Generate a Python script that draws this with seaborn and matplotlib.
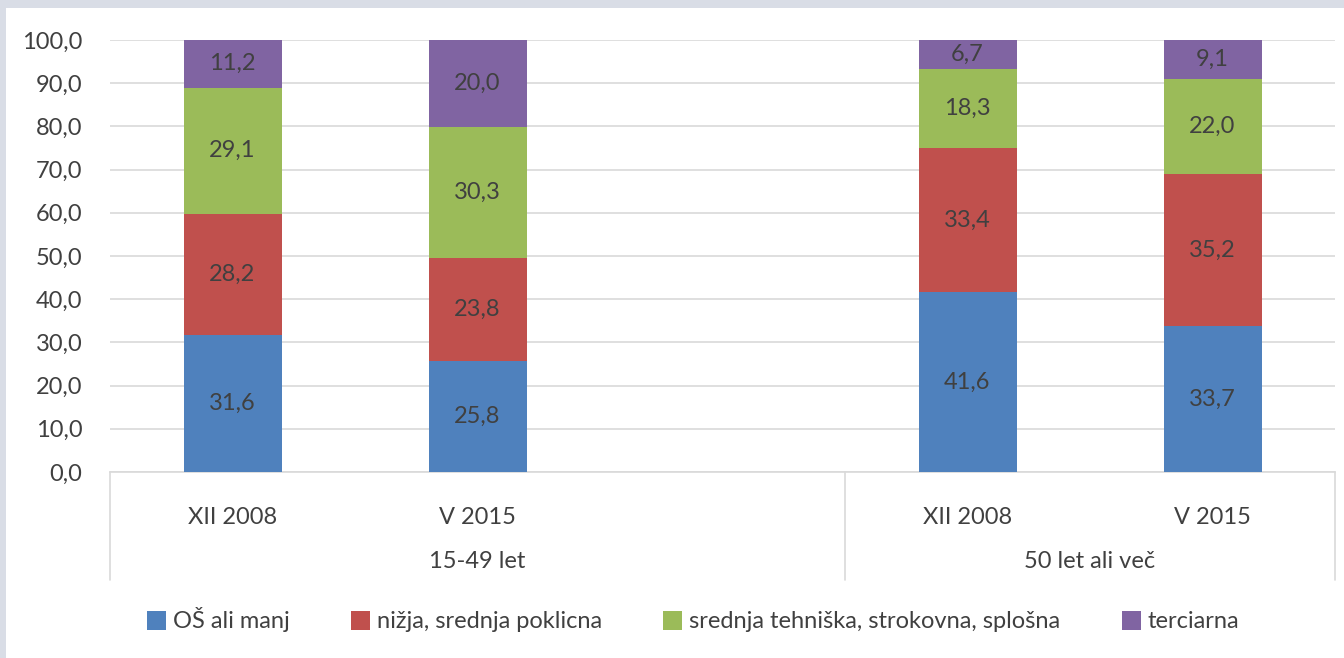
import numpy as np
import pandas as pd
import matplotlib
matplotlib.use("Agg")
import matplotlib.pyplot as plt
import seaborn as sns
from matplotlib.patches import Patch, Rectangle

# podatki
periods = ["XII 2008", "V 2015", "", "XII 2008", "V 2015"]
slots = ["a1", "a2", "gap", "b1", "b2"]
bar_slots = ["a1", "a2", "b1", "b2"]
groups = ["15-49 let", "50 let ali več"]
levels = ["OŠ ali manj", "nižja, srednja poklicna",
          "srednja tehniška, strokovna, splošna", "terciarna"]
os_manj = [31.6, 25.8, 41.6, 33.7]
nizja = [28.2, 23.8, 33.4, 35.2]
srednja = [29.1, 30.3, 18.3, 22.0]
terciarna = [11.2, 20.0, 6.7, 9.1]
colors = ["#4F81BD", "#C0504D", "#9BBB59", "#8064A2"]

sns.set_style("white")
plt.rcParams["font.family"] = ["Lato", "DejaVu Sans"]
txt = "#404040"
fs = 17

vals = np.array([os_manj, nizja, srednja, terciarna])
cum = np.cumsum(vals, axis=0)

fig = plt.figure(figsize=(13.44, 6.58), dpi=100, facecolor="#d9dde6")
fig.patches.append(Rectangle((6 / 1344, 0), 1, 1 - 8 / 658, transform=fig.transFigure,
                             facecolor="white", edgecolor="none", zorder=-10))
ax = fig.add_axes([110 / 1344, 1 - 472 / 658, (1335 - 110) / 1344, (472 - 40) / 658])
ax.set_facecolor("none")

# stolpci zlozeni: najprej najvisja vsota, nato nizje
for i in range(3, -1, -1):
    df = pd.DataFrame({"slot": bar_slots, "val": cum[i]})
    sns.barplot(data=df, x="slot", y="val", order=slots, color=colors[i],
                saturation=1, width=0.4, ax=ax, zorder=3, edgecolor="none")

for j, s in enumerate(bar_slots):
    xpos = slots.index(s)
    for i in range(4):
        mid = cum[i, j] - vals[i, j] / 2
        ax.text(xpos, mid, f"{vals[i, j]:.1f}".replace(".", ","), ha="center",
                va="center", fontsize=fs, color=txt, zorder=5)

ax.set_ylim(0, 100)
ax.set_xlim(-0.5, 4.5)
ax.set_yticks(np.arange(0, 101, 10))
ax.set_yticklabels([f"{v:.1f}".replace(".", ",") for v in np.arange(0, 101, 10)],
                   fontsize=fs, color=txt)
ax.yaxis.grid(True, color="#d9d9d9", linewidth=1.2, zorder=0)
ax.set_axisbelow(True)
ax.set_xticks(range(len(slots)))
ax.set_xticklabels(periods, fontsize=fs, color=txt)
ax.tick_params(axis="x", length=0, pad=25)
ax.tick_params(axis="y", length=0, pad=20)
ax.set_xlabel("")
ax.set_ylabel("")
for sp in ["top", "right", "left"]:
    ax.spines[sp].set_visible(False)
ax.spines["bottom"].set_color("#d9d9d9")
ax.spines["bottom"].set_linewidth(1.2)

# crte pod osjo in imena skupin
trans = ax.get_xaxis_transform()
for xv in [-0.5, 2.5, 4.5]:
    ax.plot([xv, xv], [0, -0.25], transform=trans, color="#d9d9d9",
            linewidth=1.2, clip_on=False)
ax.text(1.0, -0.208, groups[0], transform=trans, ha="center", va="center",
        fontsize=fs, color=txt)
ax.text(3.5, -0.208, groups[1], transform=trans, ha="center", va="center",
        fontsize=fs, color=txt)

handles = [Patch(facecolor=c, edgecolor="none") for c in colors]
fig.legend(handles, levels, loc="center", bbox_to_anchor=(693 / 1344, 1 - 620 / 658),
           ncol=4, frameon=False, fontsize=fs, handlelength=0.8, handleheight=0.9,
           handletextpad=0.3, columnspacing=2.6, labelcolor=txt)

fig.savefig("out.png", dpi=100, facecolor=fig.get_facecolor())
